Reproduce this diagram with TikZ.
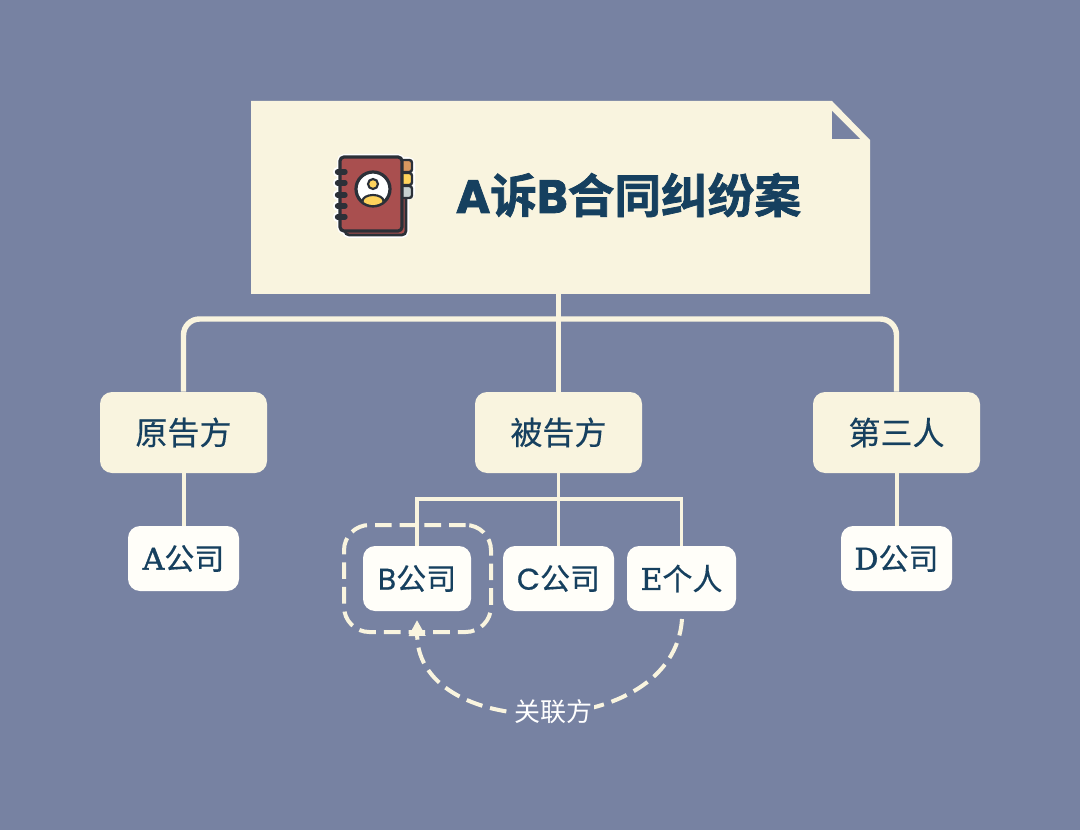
\documentclass[tikz,border=0pt]{standalone}
\usepackage{fontspec}
\usetikzlibrary{arrows.meta}
\newfontfamily\cjk[FakeBold=0.4]{Noto Sans CJK SC}
\newfontfamily\cjkbold[FakeBold=1.6]{Noto Sans CJK SC Bold}
\newfontfamily\cjklabel{Noto Sans CJK SC}
\newfontfamily\geo[FakeBold=0.5]{Poppins}
\newfontfamily\geobold[FakeBold=1.6]{Poppins Bold}
\newfontfamily\slab[FakeBold=1.3]{DejaVu Serif}
\definecolor{bgc}{HTML}{7782A2}
\definecolor{cream}{HTML}{F9F4DF}
\definecolor{navy}{HTML}{16405F}
\definecolor{paper}{HTML}{FFFEF9}
\definecolor{bookc}{HTML}{A94F4F}
\definecolor{darkc}{HTML}{2B3038}
\definecolor{tabA}{HTML}{D9985F}
\definecolor{tabB}{HTML}{FFD35C}
\definecolor{tabC}{HTML}{C7D0D0}
\tikzset{
  main/.style={fill=cream,rounded corners=9pt,minimum width=125.25pt,minimum height=60.75pt,inner sep=0pt,text=navy,font=\cjk\fontsize{24}{24}\selectfont},
  sub/.style={fill=paper,rounded corners=9pt,minimum height=48.75pt,inner sep=0pt,text=navy,font=\cjk\fontsize{22.5}{24}\selectfont},
  trunk/.style={draw=cream,line width=4.1pt},
  twig/.style={draw=cream,line width=2.8pt},
  relate/.style={draw=cream,line width=3pt,dash pattern=on 12.5pt off 6pt},
}
\begin{document}
\begin{tikzpicture}[x=0.75pt,y=-0.75pt]
\useasboundingbox (0,0) rectangle (1080,830);
\fill[bgc] (0,0) rectangle (1080,830);
% title sheet
\node[minimum width=464.25pt,minimum height=144.75pt,inner sep=0pt] (root) at (560.5,197.5) {};
\fill[cream] (251,101) -- (832,101) -- (870,140) -- (870,294) -- (251,294) -- cycle;
\fill[bgc] (832,111) -- (860,139) -- (832,139) -- cycle;
\coordinate (bus) at (559,319);
\coordinate (busb) at (559,499);
% main nodes
\node[main] (yuan) at (183.5,432.5) {原告方};
\node[main] (bei) at (558.5,432.5) {被告方};
\node[main] (third) at (896.5,432.5) {第三人};
% sub nodes
\node[sub,minimum width=83.25pt] (a) at (183.5,558.5) {{\slab A}公司};
\node[sub,minimum width=81pt] (b) at (417,578.5) {{\geo B}公司};
\node[sub,minimum width=83.25pt] (c) at (558.5,578.5) {{\geo C}公司};
\node[sub,minimum width=81.75pt] (e) at (681.5,578.5) {{\slab E}个人};
\node[sub,minimum width=83.25pt] (d) at (896.5,558.5) {{\slab D}公司};
% connectors
\draw[trunk] (bei.north |- root.south) -- (bei.north);
\draw[trunk,rounded corners=12pt] (yuan.north) |- (bus) -| (third.north);
\draw[trunk,line width=3pt] (yuan.south) -- (a.north);
\draw[trunk,line width=3pt] (third.south) -- (d.north);
\draw[twig] (bei.south) -- (c.north);
\draw[twig] (b.north) |- (busb) -| (e.north);
% related-party frame
\node[relate,rounded corners=19pt,minimum width=110.25pt,minimum height=80.25pt,inner sep=0pt] (frame) at (417.5,578.5) {};
\coordinate (from) at (682,619);
\coordinate (to) at (417,620);
\draw[relate,-{Triangle[length=12pt,width=12pt]}] (from) .. controls (674,743) and (418,743) .. (to);
\node[fill=bgc,inner sep=1pt,text=white,font=\cjklabel\fontsize{19.5}{20}\selectfont] (lab) at (553.5,712) {关联方};
% title text
\node[text=navy,inner sep=0pt,font=\cjkbold\fontsize{35}{36}\selectfont] (title) at (628.5,195) {{\geobold A}诉{\geobold B}合同纠纷案};
% notebook icon
\begin{scope}
  % white halo
  \draw[white,fill=white,line width=4.5pt,rounded corners=3pt] (340,157) rectangle (402,231);
  \draw[white,fill=white,line width=4.5pt,rounded corners=3pt] (345,165) rectangle (406,235);
  \draw[white,fill=white,line width=4.5pt,rounded corners=3pt] (402,160) rectangle (412,197);
  \foreach \yy in {172,183,195,206,217}
    \draw[white,line width=7pt,line cap=round] (337.5,\yy) -- (345,\yy);
  % back cover
  \draw[darkc,fill=bookc,line width=2pt,rounded corners=3pt] (345,165) rectangle (406,235);
  % tabs
  \foreach \yy/\cc in {160/tabA,173/tabB,186/tabC}
    \draw[darkc,fill=\cc,line width=1.8pt,rounded corners=2pt] (400,\yy) rectangle (412,\yy+12);
  % front cover
  \draw[darkc,fill=bookc,line width=2.4pt,rounded corners=3pt] (340,157) rectangle (402,231);
  \foreach \yy in {172,183,195,206,217}
    \draw[darkc,line width=4pt,line cap=round] (337.5,\yy) -- (345,\yy);
  % portrait
  \draw[darkc,fill=white,line width=2.4pt] (373,189) circle (17);
  \begin{scope}
    \clip (373,189) circle (16);
    \draw[darkc,fill=tabB,line width=1.6pt] (373,201) ellipse (10.5 and 6);
  \end{scope}
  \draw[darkc,fill=tabB,line width=1.6pt] (373,184) circle (5);
\end{scope}
\end{tikzpicture}
\end{document}
